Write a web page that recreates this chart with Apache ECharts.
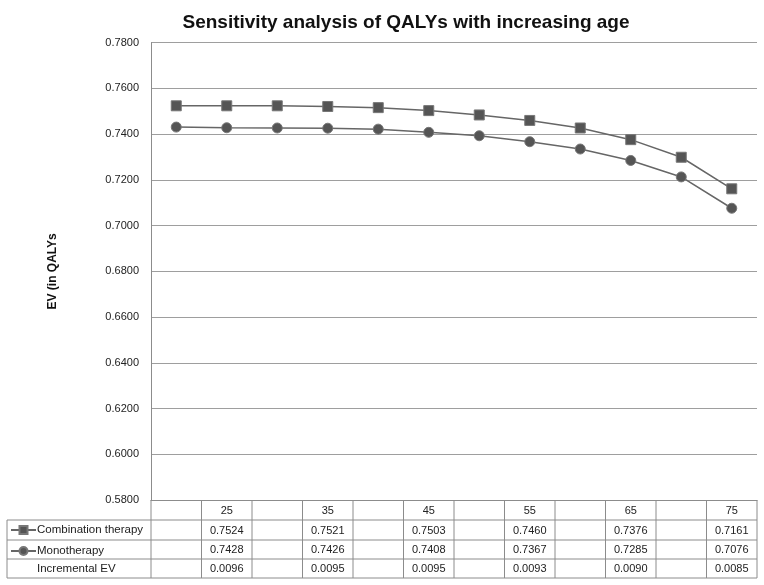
<!DOCTYPE html>
<html>
<head>
<meta charset="utf-8">
<script src="https://cdn.jsdelivr.net/npm/echarts@6/dist/echarts.min.js"></script>
<style>html,body{margin:0;padding:0;background:#fff;}#c{width:764px;height:585px;}</style>
</head>
<body>
<div id="c"></div>
<script>
var categories = ['', '25', '', '35', '', '45', '', '55', '', '65', '', '75'];
var combination = [0.7524, 0.7524, 0.7524, 0.7521, 0.7516, 0.7503, 0.7484, 0.7460, 0.7427, 0.7376, 0.7299, 0.7161];
var monotherapy = [0.7431, 0.7428, 0.7427, 0.7426, 0.7422, 0.7408, 0.7393, 0.7367, 0.7335, 0.7285, 0.7213, 0.7076];
var incremental = ['', '0.0096', '', '0.0095', '', '0.0095', '', '0.0093', '', '0.0090', '', '0.0085'];
var yTicks = [0.58, 0.60, 0.62, 0.64, 0.66, 0.68, 0.70, 0.72, 0.74, 0.76, 0.78];

var FONT = 'Liberation Sans, Arial, sans-serif';
var chart = echarts.init(document.getElementById('c'));
var option = {
  animation: false,
  backgroundColor: '#fff',
  title: {
    text: 'Sensitivity analysis of QALYs with increasing age',
    left: 401, top: 8, textAlign: 'center',
    textStyle: {fontFamily: FONT, fontSize: 19, fontWeight: 'bold', color: '#111'}
  },
  legend: {
    orient: 'vertical', left: 10, top: 524, padding: 0, itemGap: 9, itemWidth: 25, itemHeight: 10,
    textStyle: {fontFamily: FONT, fontSize: 11.5, color: '#222', padding: [0,0,0,-4]},
    data: ['Combination therapy', 'Monotherapy']
  },
  grid: {left: 151, right: 7, top: 42.7, bottom: 85, containLabel: false},
  xAxis: {
    type: 'category', data: categories, boundaryGap: true,
    axisLine: {show: true, lineStyle: {color: '#8c8c8c', width: 1}},
    axisTick: {show: false}, axisLabel: {show: false}
  },
  yAxis: {
    type: 'value', min: yTicks[0], max: yTicks[yTicks.length-1], interval: 0.02,
    name: 'EV (in QALYs', nameLocation: 'middle', nameGap: 92, nameRotate: 90,
    nameTextStyle: {fontFamily: FONT, fontSize: 12, fontWeight: 'bold', color: '#111'},
    axisLine: {show: true, lineStyle: {color: '#8c8c8c', width: 1}},
    axisTick: {show: false},
    axisLabel: {fontFamily: FONT, fontSize: 11, color: '#222', margin: 12,
      formatter: function (v) { return v.toFixed(4); }},
    splitLine: {show: true, lineStyle: {color: '#9e9e9e', width: 1}}
  },
  series: [
    {name: 'Combination therapy', type: 'line', data: combination, symbol: 'rect', symbolSize: 10,
     lineStyle: {color: '#666', width: 1.5}, itemStyle: {color: '#555', borderColor: '#777', borderWidth: 1}},
    {name: 'Monotherapy', type: 'line', data: monotherapy, symbol: 'circle', symbolSize: 10,
     lineStyle: {color: '#666', width: 1.5}, itemStyle: {color: '#555', borderColor: '#777', borderWidth: 1}}
  ]
};
chart.setOption(option);

// table below the plot, positioned from the axis scales
function buildTable() {
  var x0 = chart.convertToPixel({xAxisIndex: 0}, 0);
  var x1 = chart.convertToPixel({xAxisIndex: 0}, 1);
  var bw = x1 - x0;
  var yTop = chart.convertToPixel({yAxisIndex: 0}, yTicks[0]);
  var rows = [yTop, yTop + 20, yTop + 40, yTop + 59, yTop + 78];
  var leftX = 7;
  var rightX = x0 - bw / 2 + bw * categories.length;
  var els = [];
  var ls = {stroke: '#8c8c8c', lineWidth: 1};
  for (var r = 1; r < rows.length; r++) {
    els.push({type: 'line', shape: {x1: leftX, y1: rows[r], x2: rightX, y2: rows[r]}, style: ls, silent: true});
  }
  els.push({type: 'line', shape: {x1: leftX, y1: rows[1], x2: leftX, y2: rows[4]}, style: ls});
  for (var i = 0; i <= categories.length; i++) {
    var ex = x0 - bw / 2 + bw * i;
    els.push({type: 'line', shape: {x1: ex, y1: rows[0], x2: ex, y2: rows[4]}, style: ls});
  }
  var rowVals = [categories,
    combination.map(function (v, i) { return categories[i] ? v.toFixed(4) : ''; }),
    monotherapy.map(function (v, i) { return categories[i] ? v.toFixed(4) : ''; }),
    incremental];
  for (var rr = 0; rr < 4; rr++) {
    for (var c = 0; c < categories.length; c++) {
      if (!rowVals[rr][c]) continue;
      els.push({type: 'text', x: x0 + bw * c, y: (rows[rr] + rows[rr + 1]) / 2 + 0.5,
        style: {text: rowVals[rr][c], fontFamily: FONT, fontSize: 11, fill: '#222', align: 'center', verticalAlign: 'middle'}});
    }
  }
  els.push({type: 'text', x: 37, y: (rows[3] + rows[4]) / 2 + 0.5,
    style: {text: 'Incremental EV', fontFamily: FONT, fontSize: 11.5, fill: '#222', align: 'left', verticalAlign: 'middle'}});
  chart.setOption({graphic: els});
}
buildTable();
</script>
</body>
</html>
